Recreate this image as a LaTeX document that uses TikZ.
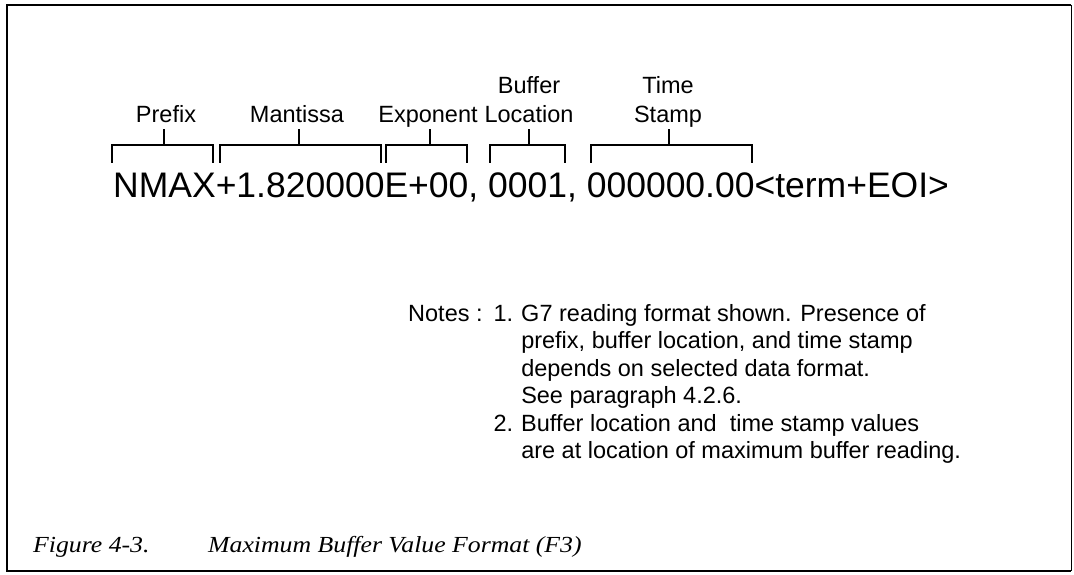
\documentclass[tikz,border=0pt]{standalone}
\usepackage{fontspec}
\setmainfont{Liberation Sans}
\newfontfamily\capfont{Liberation Serif}
\tikzset{
  lab/.style={inner sep=0pt, anchor=base, font=\fontsize{23.5pt}{29pt}\selectfont},
  bigtext/.style={inner sep=0pt, anchor=base west, font=\fontsize{35.5pt}{40pt}\selectfont},
  notestext/.style={inner sep=0pt, anchor=base west, font=\fontsize{23.5pt}{27.5pt}\selectfont},
  captext/.style={inner sep=0pt, anchor=base west, font=\capfont\itshape\fontsize{23pt}{27pt}\selectfont},
  brk/.style={line width=1.2pt},
  frameline/.style={line width=1.8pt}
}
\newcommand{\xs}[1]{\scalebox{1.12}[1]{#1}}
\begin{document}
\begin{tikzpicture}[x=1pt,y=-1pt]
\useasboundingbox (0,0) rectangle (1074,575);
% frame
\coordinate (tl) at (7,5);
\coordinate (tr) at (1071,5);
\coordinate (bl) at (7,571);
\coordinate (br) at (1071,571);
\draw[frameline] (tr) -- (tl) -- (bl) -- (br);
\draw[line width=0.9pt] (tr) -- (br);

% main string
\node[bigtext] (str) at (113,197) {NMAX+1.820000E+00, 0001, 000000.00<term+EOI>};

% labels
\node[lab] (prefix) at (166,123) {Prefix};
\node[lab] (mant) at (297,123) {Mantissa};
\node[lab] (expo) at (428,123) {Exponent};
\node[lab] (bufloc) at (529,123) {\begin{tabular}[b]{@{}c@{}}Buffer\\Location\end{tabular}};
\node[lab] (tstamp) at (668,123) {\begin{tabular}[b]{@{}c@{}}Time\\Stamp\end{tabular}};

% bracket coordinates
\foreach \n/\a/\b/\s in {p/112/213/164, m/220/381/299, e/386/467/430, b/490/565/529, t/591/752/669}{
  \coordinate (\n l) at (\a,163);
  \coordinate (\n lt) at (\a,145);
  \coordinate (\n rt) at (\b,145);
  \coordinate (\n r) at (\b,163);
  \coordinate (\n s) at (\s,145);
  \coordinate (\n st) at (\s,129);
}
\foreach \n in {p,m,e,b,t}{
  \draw[brk] (\n l) -- (\n lt) -- (\n rt) -- (\n r);
  \draw[brk] (\n s) -- (\n st);
}

% notes
\node[notestext] (notes) at (408,321) {\begin{tabular}[t]{@{}l@{\hspace{11pt}}l@{\hspace{8pt}}l@{}}
Notes : & 1. & G7 reading format shown. Presence of\\
 & & prefix, buffer location, and time stamp\\
 & & depends on selected data format.\\
 & & See paragraph 4.2.6.\\
 & 2. & Buffer location and\ \ time stamp values\\
 & & are at location of maximum buffer reading.
\end{tabular}};

% caption
\node[captext] (fig) at (33,552) {\xs{Figure 4-3.}};
\node[captext] (title) at (208,552) {\xs{Maximum Buffer Value Format (F3)}};
\end{tikzpicture}
\end{document}
